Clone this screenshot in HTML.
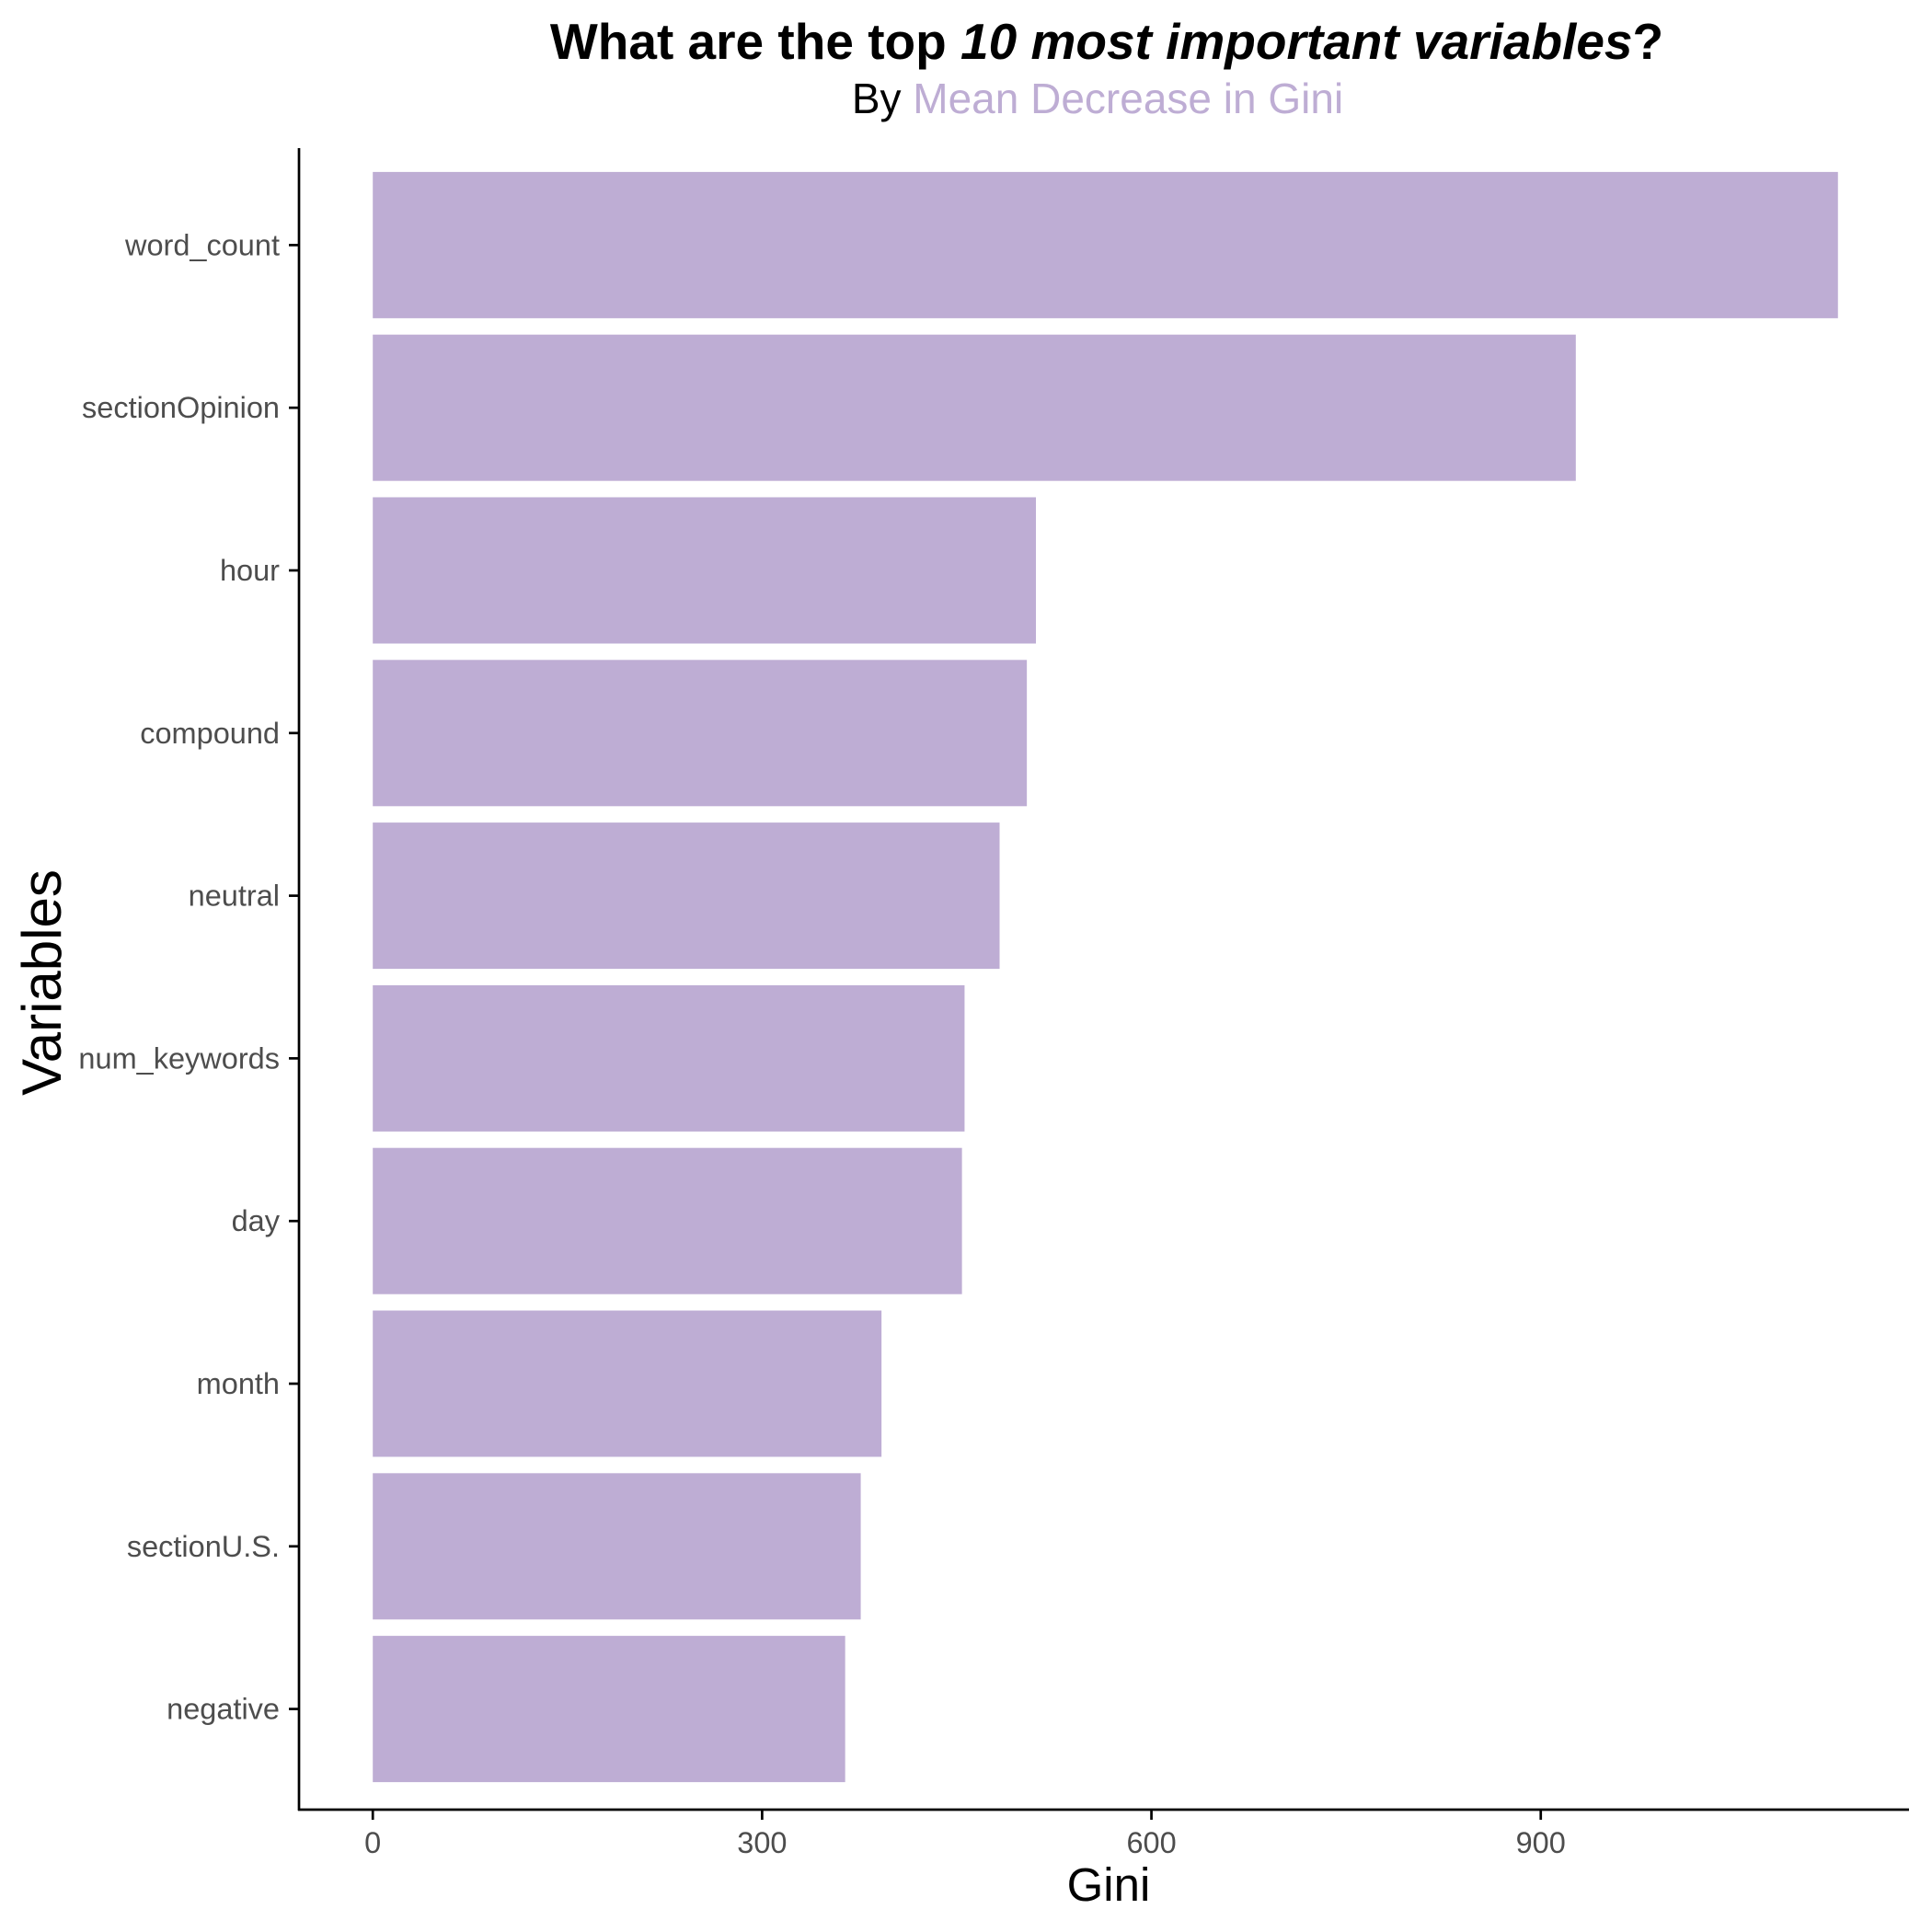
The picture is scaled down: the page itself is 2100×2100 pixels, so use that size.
<!DOCTYPE html>
<html><head><meta charset="utf-8"><style>
html,body{margin:0;padding:0;background:#fff;}
svg{display:block;font-family:"Liberation Sans",Arial,sans-serif;}
</style></head><body>
<svg id="chart" width="2100" height="2100" viewBox="0 0 2100 2100">
<text x="1203" y="64" text-anchor="middle" font-size="55" font-weight="bold" fill="#000">What are the top <tspan font-style="italic">10 most important variables</tspan>?</text>
<text x="1193" y="123" text-anchor="middle" font-size="46" fill="#000">By <tspan fill="#BEADD4">Mean Decrease in Gini</tspan></text>
<g id="bars"></g>
<g id="yaxis"></g>
<g id="xaxis"></g>
<text x="1205" y="2066" text-anchor="middle" font-size="51" fill="#000">Gini</text>
<text transform="translate(66,1068) rotate(-90)" text-anchor="middle" font-size="60" fill="#000">Variables</text>
</svg>
<script>
const categories = ["word_count","sectionOpinion","hour","compound","neutral","num_keywords","day","month","sectionU.S.","negative"];
const values = [1129,927,511,504,483,456,454,392,376,364];
const xTicks = [0,300,600,900];
const xTickLabels = ["0","300","600","900"];

const NS="http://www.w3.org/2000/svg";
const x0=405.2, pxPerUnit=1.4106;
function xScale(v){return x0+v*pxPerUnit;}
const bandTop=178, band=176.8, barH=159;
function yCenter(i){return bandTop+band*(i+0.5);}
function mk(tag,attrs,parent){const e=document.createElementNS(NS,tag);for(const k in attrs)e.setAttribute(k,attrs[k]);parent.appendChild(e);return e;}
const bars=document.getElementById('bars'),ya=document.getElementById('yaxis'),xa=document.getElementById('xaxis');
categories.forEach((c,i)=>{
  const r=mk('rect',{x:xScale(0),y:yCenter(i)-barH/2,width:xScale(values[i])-xScale(0),height:barH,fill:'#BEADD4'},bars);
  
  
  const t=mk('text',{x:304,y:yCenter(i)+11,'text-anchor':'end','font-size':32.5,fill:'#4d4d4d'},ya);
  t.textContent=c;
  
  
  const tk=mk('line',{x1:314,x2:325,y1:yCenter(i),y2:yCenter(i),stroke:'#000','stroke-width':2.7},ya);
  
  
});
const yl=mk('line',{x1:325,x2:325,y1:161,y2:1968,stroke:'#000','stroke-width':2.7},ya);


const xl=mk('line',{x1:324,x2:2075,y1:1967,y2:1967,stroke:'#000','stroke-width':2.7},xa);


xTicks.forEach((v,i)=>{
  const tk=mk('line',{x1:xScale(v),x2:xScale(v),y1:1967,y2:1978,stroke:'#000','stroke-width':2.7},xa);
  
  
  const t=mk('text',{x:xScale(v),y:2014,'text-anchor':'middle','font-size':32.5,fill:'#4d4d4d'},xa);
  t.textContent=xTickLabels[i];
  
  
});
</script>
</body></html>
